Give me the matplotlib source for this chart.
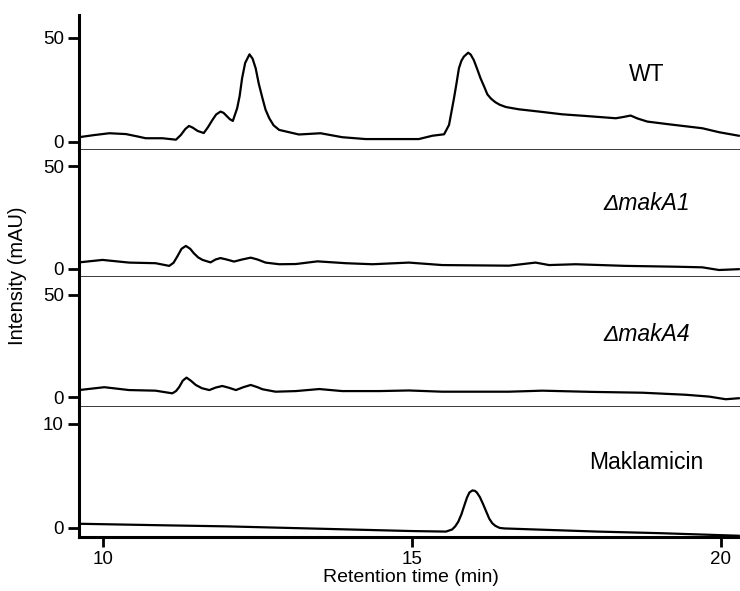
import matplotlib
matplotlib.use("Agg")
import matplotlib.pyplot as plt

plt.rcParams['font.family'] = ['Liberation Sans', 'DejaVu Sans']

# chromatogram traces (time in min, intensity in mAU)
wt_t = [9.61, 9.85, 10.10, 10.37, 10.55, 10.69, 10.96, 11.18, 11.26, 11.33, 11.39, 11.45,
        11.53, 11.63, 11.70, 11.77, 11.83, 11.90, 11.95, 12.01, 12.05, 12.10, 12.17, 12.21,
        12.25, 12.30, 12.37, 12.42, 12.47, 12.52, 12.58, 12.63, 12.69, 12.76, 12.85, 13.01,
        13.17, 13.52, 13.87, 14.25, 14.68, 15.11, 15.33, 15.52, 15.60, 15.68, 15.72, 15.76,
        15.80, 15.84, 15.91, 15.95, 16.00, 16.05, 16.11, 16.17, 16.22, 16.28, 16.35, 16.42,
        16.52, 16.73, 17.06, 17.43, 17.81, 18.30, 18.42, 18.54, 18.65, 18.81, 19.16, 19.70,
        19.97, 20.29]
wt_v = [2.3, 3.3, 4.2, 3.8, 2.7, 1.8, 1.8, 1.1, 3.4, 6.2, 7.7, 6.9,
        5.3, 4.3, 7.2, 10.6, 13.2, 14.6, 14.0, 12.2, 11.0, 10.1, 16.2, 22.0,
        30.6, 38.0, 42.1, 40.0, 35.4, 28.0, 21.0, 15.5, 11.4, 8.0, 5.8, 4.7,
        3.6, 4.2, 2.3, 1.4, 1.4, 1.4, 3.0, 3.7, 8.2, 21.0, 28.0, 35.4,
        39.0, 41.0, 42.9, 42.0, 39.4, 35.5, 30.6, 26.5, 22.9, 20.8, 19.1, 17.9,
        16.8, 15.7, 14.6, 13.3, 12.5, 11.4, 12.0, 12.7, 11.3, 9.8, 8.5, 6.6,
        4.7, 3.0]

a1_t = [9.61, 9.99, 10.42, 10.85, 11.07, 11.14, 11.20, 11.27, 11.34, 11.41, 11.47, 11.54,
        11.61, 11.74, 11.82, 11.90, 12.00, 12.12, 12.25, 12.39, 12.50, 12.63, 12.85, 13.12,
        13.47, 13.93, 14.36, 14.95, 15.49, 16.57, 17.00, 17.22, 17.65, 18.46, 19.27, 19.70,
        19.97, 20.29]
a1_v = [3.2, 4.4, 3.1, 2.8, 1.5, 3.0, 6.0, 9.8, 11.2, 9.8, 7.6, 5.6,
        4.4, 3.2, 4.6, 5.3, 4.6, 3.6, 4.6, 5.5, 4.6, 3.1, 2.3, 2.4,
        3.7, 2.8, 2.3, 3.1, 1.9, 1.6, 3.1, 1.9, 2.3, 1.5, 1.1, 0.8,
        -0.5, -0.1]

a4_t = [9.61, 10.02, 10.42, 10.85, 11.12, 11.18, 11.23, 11.29, 11.35, 11.42, 11.50, 11.60,
        11.72, 11.82, 11.93, 12.04, 12.15, 12.27, 12.39, 12.50, 12.58, 12.79, 13.12, 13.50,
        13.87, 14.47, 14.95, 15.49, 16.57, 17.11, 17.92, 18.73, 19.43, 19.81, 20.08, 20.29]
a4_v = [3.4, 4.8, 3.4, 3.1, 1.8, 2.9, 4.8, 8.0, 9.5, 8.0, 5.9, 4.3,
        3.4, 4.6, 5.4, 4.5, 3.4, 4.8, 5.9, 4.8, 3.8, 2.6, 2.9, 3.9,
        2.9, 2.9, 3.2, 2.6, 2.6, 3.1, 2.5, 2.1, 1.1, 0.2, -1.1, -0.6]

mak_t = [9.61, 11.0, 12.0, 13.0, 14.0, 15.0, 15.55, 15.65, 15.70, 15.75, 15.80, 15.85,
         15.89, 15.93, 15.98, 16.02, 16.05, 16.10, 16.15, 16.20, 16.25, 16.30, 16.35,
         16.42, 16.5, 17.0, 18.0, 19.0, 20.29]
mak_v = [0.4, 0.25, 0.15, 0.0, -0.15, -0.3, -0.35, -0.15, 0.15, 0.6, 1.3, 2.2,
         2.9, 3.4, 3.6, 3.55, 3.4, 2.95, 2.3, 1.6, 0.9, 0.45, 0.2,
         0.0, -0.05, -0.15, -0.35, -0.5, -0.75]

names = ['WT', '\u0394makA1', '\u0394makA4', 'Maklamicin']
traces = [(wt_t, wt_v), (a1_t, a1_v), (a4_t, a4_v), (mak_t, mak_v)]
yticks = [[0, 50], [0, 50], [0, 50], [0, 10]]
ylims = [(-3.85, 61), (-3.9, 57.8), (-4.9, 58.8), (-0.87, 11.6)]
label_y = [32.2, 32.0, 30.4, 6.25]
italic = [False, True, True, False]

fig = plt.figure(figsize=(7.4, 5.91), dpi=100)
# panel edges in pixels from the top
edges = [15, 150, 277, 407, 537]
left = 79 / 740
width = 1 - left

for i in range(4):
    top, bot = edges[i], edges[i + 1]
    ax = fig.add_axes([left, 1 - bot / 591, width, (bot - top) / 591])
    t, v = traces[i]
    ax.plot(t, v, color='black', lw=1.6, solid_joinstyle='round')
    ax.set_xlim(9.61, 20.31)
    ax.set_ylim(*ylims[i])
    ax.set_yticks(yticks[i])
    ax.spines['top'].set_visible(False)
    ax.spines['right'].set_visible(False)
    ax.spines['left'].set_linewidth(2.2)
    ax.tick_params(axis='y', direction='out', length=8, width=2, labelsize=13.5, pad=3)
    if i < 3:
        ax.spines['bottom'].set_linewidth(1.8)
        ax.set_xticks([])
    else:
        ax.spines['bottom'].set_linewidth(2.2)
        ax.set_xticks([10, 15, 20])
        ax.tick_params(axis='x', direction='out', length=7, width=2, labelsize=13.5, pad=3)
    style = 'italic' if italic[i] else 'normal'
    ax.text(18.8, label_y[i], names[i], fontsize=16.5,
            ha='center', va='center', style=style)

fig.text(18 / 740, 1 - 276 / 591, 'Intensity (mAU)', rotation=90, fontsize=14.5,
         ha='center', va='center')
fig.text(411 / 740, 1 - 578 / 591, 'Retention time (min)', fontsize=14,
         ha='center', va='center')

fig.savefig('out.png', dpi=100)
